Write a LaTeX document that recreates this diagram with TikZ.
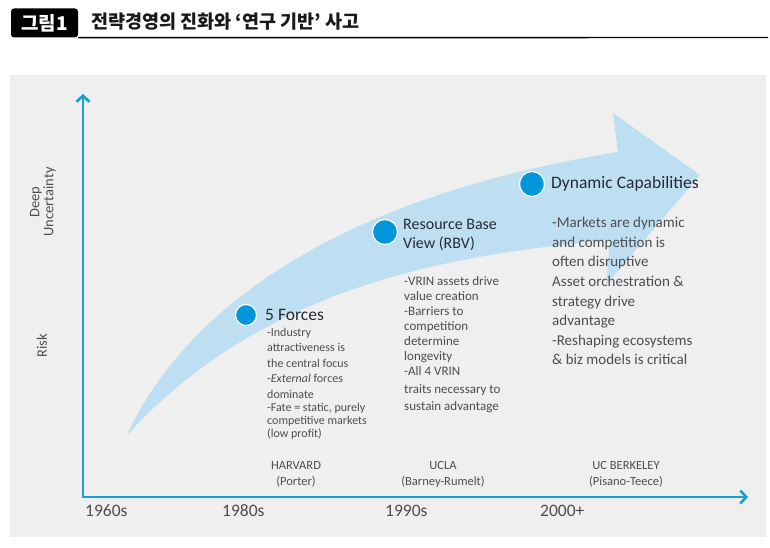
\documentclass[tikz,border=0pt]{standalone}
\usepackage{fontspec}
\setmainfont{Carlito}
\newfontfamily\krfont{Noto Sans CJK KR}
\usetikzlibrary{arrows.meta}

\definecolor{axisblue}{RGB}{22,160,205}
\definecolor{dotblue}{RGB}{0,150,218}
\definecolor{bandblue}{RGB}{190,223,241}
\definecolor{panelgray}{RGB}{239,239,239}
\definecolor{textgray}{RGB}{78,78,82}
\definecolor{titlegray}{RGB}{38,42,54}

\begin{document}
\begin{tikzpicture}[x=1pt,y=-1pt,
        dot/.style={circle,fill=dotblue,draw=white,line width=1.2pt,inner sep=0pt,minimum size=25pt},
        band/.style={fill=bandblue},
        axisline/.style={axisblue,line width=2.6pt,line join=miter,
            arrows={Straight Barb[length=6pt,width=13pt]-Straight Barb[length=6pt,width=13pt]}},
        tagbox/.style={fill=black,text=white,rounded corners=3pt,minimum width=67pt,minimum height=29pt,inner sep=0pt,font=\krfont\bfseries\fontsize{19}{20}\selectfont},
        head/.style={anchor=west,inner sep=0pt,text=black!90,font=\krfont\bfseries\fontsize{18.5}{20}\selectfont},
        title/.style={anchor=base west,inner sep=0pt,text=titlegray},
        body/.style={anchor=north west,inner sep=0pt,align=left,text=textgray},
        school/.style={anchor=north,inner sep=0pt,align=center,text=textgray,font=\fontsize{12.5}{16.5}\selectfont},
        year/.style={anchor=base west,inner sep=0pt,text=textgray,font=\fontsize{17.5}{20}\selectfont},
        side/.style={rotate=90,inner sep=0pt,align=center,text=textgray,font=\fontsize{14.5}{14}\selectfont}
    ]
        % Page, panel and header
        \useasboundingbox (0,0) rectangle (770,548);
        \fill[white] (0,0) rectangle (770,548);
        \fill[panelgray] (10,75) rectangle (766,537);
        \node[tagbox] (tag) at (44.5,23) {그림1};
        \coordinate (ruleend) at (768,37.5);
        \draw[black,line width=1.4pt] (tag.south east) -- (ruleend);
        \node[head] (heading) at (91,22) {전략경영의 진화와 ‘연구 기반’ 사고};

        % The big curved arrow
        \fill[band] (127,435) .. controls (180,320) and (320,200) .. (618,152)
            -- (613,113) -- (700,175) -- (606,285) -- (610,240)
            .. controls (450,255) and (265,285) .. (127,435) -- cycle;

        % Axes
        \coordinate (origin) at (83,497);
        \coordinate (ytop) at (83,94);
        \coordinate (xend) at (748,497);
        \draw[axisline] (ytop) -- (origin) -- (xend);
        \node[side] (deep) at (43,202) {Deep\\Uncertainty};
        \node[side] (risk) at (42,346) {Risk};

        % The three schools
        \node[dot,minimum size=21pt] (forces) at (246,315) {};
        \node[dot] (rbv) at (385,232) {};
        \node[dot] (dyncap) at (532,184) {};

        \node[title,font=\fontsize{17.5}{20}\selectfont] (forcestitle) at (265,320) {5 Forces};
        \node[body,font=\fontsize{12}{15.5}\selectfont] (forcestext) at (267,327.5)
            {-Industry\\attractiveness is\\the central focus\\-\textit{External} forces\\dominate\\[-2.5pt]-Fate = static, purely\\[-2.5pt]competitive markets\\[-2.5pt](low profit)};

        \node[body,font=\fontsize{16}{19}\selectfont,text=titlegray] (rbvtitle) at (403,219.5) {Resource Base\\View (RBV)};
        \node[body,font=\fontsize{13}{15}\selectfont] (rbvtext) at (404,276)
            {-VRIN assets drive\\value creation\\-Barriers to\\competition\\determine\\longevity\\-All 4 VRIN\\[3pt]traits necessary to\\[2pt]sustain advantage};

        \node[title,font=\fontsize{17.5}{20}\selectfont] (dyncaptitle) at (551,189) {Dynamic Capabilities};
        \node[body,font=\fontsize{15}{19.6}\selectfont] (dyncaptext) at (552,217)
            {-Markets are dynamic\\and competition is\\often disruptive\\Asset orchestration \&\\strategy drive\\advantage\\-Reshaping ecosystems\\\& biz models is critical};

        % Universities and years
        \node[school] (harvard) at (296,461) {HARVARD\\(Porter)};
        \node[school] (ucla) at (443,461) {UCLA\\(Barney-Rumelt)};
        \node[school] (berkeley) at (626,461) {UC BERKELEY\\(Pisano-Teece)};

        \node[year] (y60) at (85,516) {1960s};
        \node[year] (y80) at (222,516) {1980s};
        \node[year] (y90) at (385,516) {1990s};
        \node[year] (y00) at (540,516) {2000+};
    \end{tikzpicture}
\end{document}
